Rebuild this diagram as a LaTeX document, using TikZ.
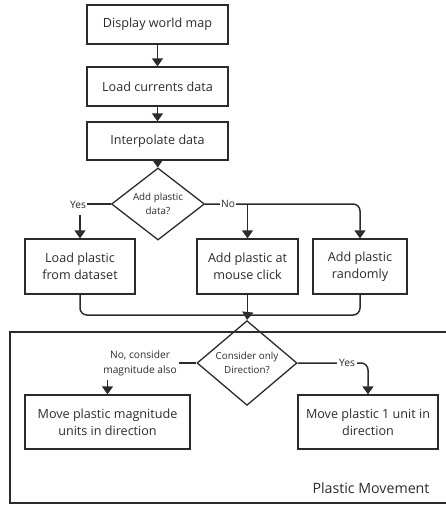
\documentclass[tikz,border=0pt]{standalone}
\usepackage{fontspec}
\setmainfont{Open Sans}
\usetikzlibrary{shapes.geometric,arrows.meta}
\definecolor{ink}{HTML}{2B2B2B}
\begin{document}
\begin{tikzpicture}[x=1pt,y=-1pt,
  font=\fontsize{12.6}{17.3}\selectfont,
  every node/.style={text=ink},
  box/.style={draw=ink,line width=1.3pt,rectangle,inner sep=0pt,align=center},
  dia/.style={draw=ink,line width=1.3pt,diamond,inner sep=0pt,align=center,font=\fontsize{9.8}{14.5}\selectfont},
  lbl/.style={fill=white,inner sep=1pt,font=\fontsize{10.2}{15}\selectfont,align=center},
  conn/.style={draw=ink,line width=1.5pt},
  arr/.style={conn,-{Triangle[width=11pt,length=8pt]}},
  rc/.style={rounded corners=7pt}]
\useasboundingbox (0,0) rectangle (446,505);
% frame
\draw[draw=ink,line width=1.3pt] (460,332) -- (10,332) -- (10,503) -- (460,503);
\node[anchor=east,font=\fontsize{14.2}{16}\selectfont] (pm) at (433,488) {Plastic Movement};

\node[box,minimum width=141pt,minimum height=39pt] (b1) at (157.5,24.5) {Display world map};
\node[box,minimum width=141pt,minimum height=39pt] (b2) at (157.5,86.5) {Load currents data};
\node[box,minimum width=141pt,minimum height=38pt] (b3) at (157.5,141) {Interpolate data};
\node[dia,minimum width=93pt,minimum height=54pt] (d1) at (158,204) {Add plastic\\data?};
\node[box,minimum width=110pt,minimum height=55pt] (b4) at (80,266.5) {Load plastic\\from dataset};
\node[box,minimum width=101pt,minimum height=55pt] (b5) at (247.5,266.5) {Add plastic at\\mouse click};
\node[box,minimum width=94pt,minimum height=55pt] (b6) at (360,266.5) {Add plastic\\randomly};
\node[dia,minimum width=100pt,minimum height=62pt] (d2) at (247,363) {Consider only\\Direction?};
\node[box,minimum width=165pt,minimum height=54pt] (b7) at (107.5,422) {Move plastic magnitude\\units in direction};
\node[box,minimum width=140pt,minimum height=54pt] (b8) at (368,422) {Move plastic 1 unit in\\direction};

\draw[arr] (b1) -- (b2);
\draw[arr] (b2) -- (b3);
\draw[arr] (b3) -- (d1);
% yes branch
\draw[arr] (d1.west) -| (b4.north);
\node[lbl,minimum height=20pt] at (78,205) {Yes};
% no branch
\draw[arr,rc] (d1.east) -| (b6.north);
\coordinate (nb) at (b5.north |- d1.east);
\draw[arr] (nb) -- (b5.north);
\node[lbl] at (228,204) {No};
% merge
\coordinate (m) at (b5.south |- 0,315);
\draw[conn,rc] (b4.south) |- (m) -| (b6.south);
\draw[conn] (b5.south) -- (m);
\draw[arr] (m) -- (d2.north);
% lower branches
\draw[arr] (d2.west) -| (b7.north);
\node[lbl,minimum width=78pt,minimum height=32pt,inner sep=0pt] at (140,363.5) {No, consider\\magnitude also};
\draw[arr,rc] (d2.east) -| (b8.north);
\node[lbl,inner sep=2pt] at (347,363) {Yes};
\end{tikzpicture}
\end{document}
